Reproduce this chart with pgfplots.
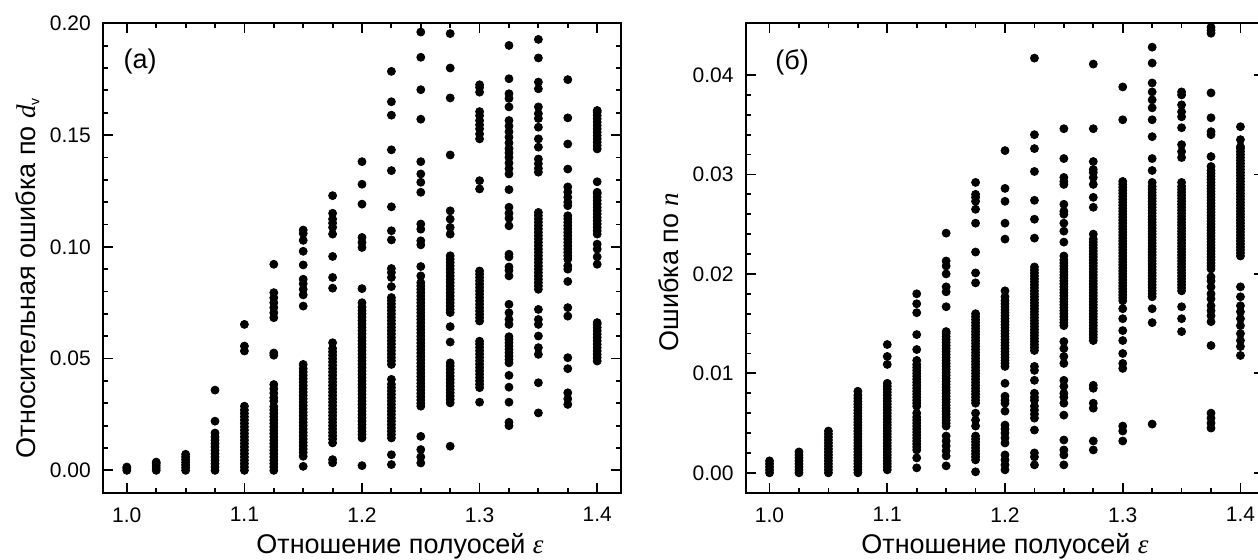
\documentclass[border=0pt]{standalone}
\usepackage{pgfplots}
\pgfplotsset{compat=1.18}
\usepackage{fontspec}
\setmainfont{Liberation Sans}
\newfontfamily\serif{Liberation Serif}
\pgfplotsset{
  panel/.style={
    scale only axis, anchor=south west,
    xmin=0.98, xmax=1.42,
    xtick={1,1.1,1.2,1.3,1.4}, minor x tick num=3,
    scaled x ticks=false, scaled y ticks=false,
    /pgf/number format/assume math mode=true,
    tick align=inside,
    major tick length=5pt, minor tick length=2.3pt,
    every tick/.style={black, line width=0.9pt},
    axis line style={line width=1.15pt},
    xticklabel style={font=\fontsize{10.5}{12.5}\selectfont, yshift=-3.8pt, /pgf/number format/.cd, fixed, fixed zerofill, precision=1},
    yticklabel style={font=\fontsize{10.5}{12.5}\selectfont, xshift=-2.7pt, /pgf/number format/.cd, fixed, fixed zerofill, precision=2},
    label style={font=\fontsize{13.5}{16}\selectfont},
    xlabel style={anchor=center},
    ylabel style={anchor=center, rotate=0},
  },
  dots/.style={only marks, mark=*, mark size=2pt, mark options={draw=none, fill=black}}
}
\begin{document}
\begin{tikzpicture}
\begin{axis}[panel, at={(51.65pt,33.15pt)}, width=258.7pt, height=234.7pt,
  ymin=-0.01, ymax=0.2, ytick={0,0.05,0.1,0.15,0.2}, minor y tick num=4,
  xlabel={Отношение полуосей {\serif\itshape ε}},
  xlabel style={at={(axis description cs:0.5735,-0.1136)}},
  ylabel={Относительная ошибка по {\serif\itshape d}\raisebox{-0.3ex}{\fontsize{7}{8}\selectfont v}},
  ylabel style={at={(axis description cs:-0.147,0.457)}}]
\addplot[dots] table[row sep=\\]{x y\\
1 0\\ 1 .0008\\ 1 .0015\\
1.025 0\\ 1.025 .001\\ 1.025 .002\\ 1.025 .003\\ 1.025 .0037\\
1.05 0\\ 1.05 .0012\\ 1.05 .0024\\ 1.05 .0036\\ 1.05 .0048\\ 1.05 .006\\ 1.05 .0072\\
1.075 .0359\\ 1.075 .022\\ 1.075 0\\ 1.075 .0015\\ 1.075 .003\\ 1.075 .0045\\ 1.075 .006\\ 1.075 .0075\\ 1.075 .009\\ 1.075 .0105\\ 1.075 .012\\ 1.075 .0135\\ 1.075 .015\\ 1.075 .0167\\
1.1 .0653\\ 1.1 .0556\\ 1.1 .0534\\ 1.1 0\\ 1.1 .0015\\ 1.1 .003\\ 1.1 .0045\\ 1.1 .006\\ 1.1 .0075\\ 1.1 .009\\ 1.1 .0105\\ 1.1 .012\\ 1.1 .0135\\ 1.1 .015\\ 1.1 .0165\\ 1.1 .018\\ 1.1 .0195\\ 1.1 .021\\ 1.1 .0225\\ 1.1 .024\\ 1.1 .0255\\ 1.1 .027\\ 1.1 .0287\\
1.125 .0922\\ 1.125 .0795\\ 1.125 .0772\\ 1.125 .075\\ 1.125 .0728\\ 1.125 .0705\\ 1.125 .0683\\ 1.125 .0525\\ 1.125 .0515\\ 1.125 0\\ 1.125 .0015\\ 1.125 .003\\ 1.125 .0045\\ 1.125 .006\\ 1.125 .0075\\ 1.125 .009\\ 1.125 .0105\\ 1.125 .012\\ 1.125 .0135\\ 1.125 .015\\ 1.125 .0165\\ 1.125 .018\\ 1.125 .0195\\ 1.125 .021\\ 1.125 .0225\\ 1.125 .024\\ 1.125 .0255\\ 1.125 .027\\ 1.125 .0285\\ 1.125 .031\\ 1.125 .0325\\ 1.125 .0345\\ 1.125 .0365\\ 1.125 .0384\\
1.15 .1075\\ 1.15 .106\\ 1.15 .1029\\ 1.15 .098\\ 1.15 .0919\\ 1.15 .0855\\ 1.15 .0835\\ 1.15 .081\\ 1.15 .0785\\ 1.15 .0735\\ 1.15 .0018\\ 1.15 .0063\\ 1.15 .008\\ 1.15 .0095\\ 1.15 .011\\ 1.15 .0125\\ 1.15 .014\\ 1.15 .0155\\ 1.15 .017\\ 1.15 .0185\\ 1.15 .02\\ 1.15 .0215\\ 1.15 .023\\ 1.15 .0245\\ 1.15 .026\\ 1.15 .0275\\ 1.15 .029\\ 1.15 .0305\\ 1.15 .032\\ 1.15 .0335\\ 1.15 .035\\ 1.15 .0365\\ 1.15 .038\\ 1.15 .0395\\ 1.15 .041\\ 1.15 .0425\\ 1.15 .044\\ 1.15 .0455\\ 1.15 .0474\\
1.175 .1229\\ 1.175 .115\\ 1.175 .1124\\ 1.175 .1106\\ 1.175 .1087\\ 1.175 .1057\\ 1.175 .0957\\ 1.175 .0863\\ 1.175 .0815\\ 1.175 .0048\\ 1.175 .0034\\ 1.175 .0123\\ 1.175 .014\\ 1.175 .0155\\ 1.175 .017\\ 1.175 .0185\\ 1.175 .02\\ 1.175 .0215\\ 1.175 .023\\ 1.175 .0245\\ 1.175 .026\\ 1.175 .0275\\ 1.175 .029\\ 1.175 .0305\\ 1.175 .032\\ 1.175 .0335\\ 1.175 .035\\ 1.175 .0365\\ 1.175 .038\\ 1.175 .0395\\ 1.175 .041\\ 1.175 .0425\\ 1.175 .044\\ 1.175 .0455\\ 1.175 .047\\ 1.175 .0485\\ 1.175 .05\\ 1.175 .0515\\ 1.175 .053\\ 1.175 .0545\\ 1.175 .0571\\
1.2 .1381\\ 1.2 .128\\ 1.2 .1191\\ 1.2 .1042\\ 1.2 .102\\ 1.2 .0997\\ 1.2 .0813\\ 1.2 .0021\\ 1.2 .0145\\ 1.2 .016\\ 1.2 .0175\\ 1.2 .019\\ 1.2 .0205\\ 1.2 .022\\ 1.2 .0235\\ 1.2 .025\\ 1.2 .0265\\ 1.2 .028\\ 1.2 .0295\\ 1.2 .031\\ 1.2 .0325\\ 1.2 .034\\ 1.2 .0355\\ 1.2 .037\\ 1.2 .0385\\ 1.2 .04\\ 1.2 .0415\\ 1.2 .043\\ 1.2 .0445\\ 1.2 .046\\ 1.2 .0475\\ 1.2 .049\\ 1.2 .0505\\ 1.2 .052\\ 1.2 .0535\\ 1.2 .055\\ 1.2 .0565\\ 1.2 .058\\ 1.2 .0595\\ 1.2 .061\\ 1.2 .0625\\ 1.2 .064\\ 1.2 .0655\\ 1.2 .067\\ 1.2 .0685\\ 1.2 .07\\ 1.2 .0715\\ 1.2 .073\\ 1.2 .075\\
1.225 .1785\\ 1.225 .1649\\ 1.225 .1589\\ 1.225 .1434\\ 1.225 .1341\\ 1.225 .1179\\ 1.225 .1072\\ 1.225 .1031\\ 1.225 .0903\\ 1.225 .0885\\ 1.225 .0863\\ 1.225 .0822\\ 1.225 .0474\\ 1.225 .049\\ 1.225 .0505\\ 1.225 .052\\ 1.225 .0535\\ 1.225 .055\\ 1.225 .0565\\ 1.225 .058\\ 1.225 .0595\\ 1.225 .061\\ 1.225 .0625\\ 1.225 .064\\ 1.225 .0655\\ 1.225 .067\\ 1.225 .0685\\ 1.225 .07\\ 1.225 .0715\\ 1.225 .073\\ 1.225 .0745\\ 1.225 .076\\ 1.225 .0773\\ 1.225 .0145\\ 1.225 .016\\ 1.225 .0175\\ 1.225 .019\\ 1.225 .0205\\ 1.225 .022\\ 1.225 .0235\\ 1.225 .025\\ 1.225 .0265\\ 1.225 .028\\ 1.225 .0295\\ 1.225 .031\\ 1.225 .0325\\ 1.225 .034\\ 1.225 .0355\\ 1.225 .037\\ 1.225 .0385\\ 1.225 .0407\\ 1.225 .007\\ 1.225 .0026\\
1.25 .1961\\ 1.25 .1848\\ 1.25 .1703\\ 1.25 .1571\\ 1.25 .1381\\ 1.25 .1326\\ 1.25 .1289\\ 1.25 .1244\\ 1.25 .1102\\ 1.25 .1079\\ 1.25 .1027\\ 1.25 .1009\\ 1.25 .0912\\ 1.25 .0287\\ 1.25 .03\\ 1.25 .0315\\ 1.25 .033\\ 1.25 .0345\\ 1.25 .036\\ 1.25 .0375\\ 1.25 .039\\ 1.25 .0405\\ 1.25 .042\\ 1.25 .0435\\ 1.25 .045\\ 1.25 .0465\\ 1.25 .048\\ 1.25 .0495\\ 1.25 .051\\ 1.25 .0525\\ 1.25 .054\\ 1.25 .0555\\ 1.25 .057\\ 1.25 .0585\\ 1.25 .06\\ 1.25 .0615\\ 1.25 .063\\ 1.25 .0645\\ 1.25 .066\\ 1.25 .0675\\ 1.25 .069\\ 1.25 .0705\\ 1.25 .072\\ 1.25 .0735\\ 1.25 .075\\ 1.25 .0765\\ 1.25 .078\\ 1.25 .0795\\ 1.25 .081\\ 1.25 .0825\\ 1.25 .084\\ 1.25 .087\\ 1.25 .0152\\ 1.25 .0093\\ 1.25 .006\\ 1.25 .0033\\
1.275 .1954\\ 1.275 .18\\ 1.275 .1666\\ 1.275 .1411\\ 1.275 .1161\\ 1.275 .1124\\ 1.275 .1087\\ 1.275 .1057\\ 1.275 .0706\\ 1.275 .072\\ 1.275 .0735\\ 1.275 .075\\ 1.275 .0765\\ 1.275 .078\\ 1.275 .0795\\ 1.275 .081\\ 1.275 .0825\\ 1.275 .084\\ 1.275 .0855\\ 1.275 .087\\ 1.275 .0885\\ 1.275 .09\\ 1.275 .0915\\ 1.275 .093\\ 1.275 .0945\\ 1.275 .096\\ 1.275 .0643\\ 1.275 .0574\\ 1.275 .0302\\ 1.275 .0317\\ 1.275 .0332\\ 1.275 .0347\\ 1.275 .0362\\ 1.275 .0377\\ 1.275 .0392\\ 1.275 .0407\\ 1.275 .0422\\ 1.275 .0437\\ 1.275 .0452\\ 1.275 .0467\\ 1.275 .0481\\ 1.275 .0108\\
1.3 .1725\\ 1.3 .1713\\ 1.3 .1692\\ 1.3 .1605\\ 1.3 .1587\\ 1.3 .1565\\ 1.3 .1546\\ 1.3 .1528\\ 1.3 .1505\\ 1.3 .1483\\ 1.3 .1296\\ 1.3 .1259\\ 1.3 .0668\\ 1.3 .0683\\ 1.3 .0698\\ 1.3 .0713\\ 1.3 .0728\\ 1.3 .0743\\ 1.3 .0758\\ 1.3 .0773\\ 1.3 .0788\\ 1.3 .0803\\ 1.3 .0818\\ 1.3 .0833\\ 1.3 .0848\\ 1.3 .0863\\ 1.3 .0878\\ 1.3 .0892\\ 1.3 .037\\ 1.3 .0385\\ 1.3 .04\\ 1.3 .0415\\ 1.3 .043\\ 1.3 .0445\\ 1.3 .046\\ 1.3 .0475\\ 1.3 .049\\ 1.3 .0505\\ 1.3 .052\\ 1.3 .0535\\ 1.3 .055\\ 1.3 .0565\\ 1.3 .0578\\ 1.3 .0305\\
1.325 .1901\\ 1.325 .1752\\ 1.325 .1685\\ 1.325 .1664\\ 1.325 .1626\\ 1.325 .1565\\ 1.325 .154\\ 1.325 .1515\\ 1.325 .149\\ 1.325 .1465\\ 1.325 .144\\ 1.325 .142\\ 1.325 .14\\ 1.325 .1375\\ 1.325 .135\\ 1.325 .1326\\ 1.325 .1256\\ 1.325 .1177\\ 1.325 .115\\ 1.325 .1128\\ 1.325 .1094\\ 1.325 .0967\\ 1.325 .0955\\ 1.325 .091\\ 1.325 .0895\\ 1.325 .087\\ 1.325 .0743\\ 1.325 .0705\\ 1.325 .0675\\ 1.325 .0653\\ 1.325 .0481\\ 1.325 .0496\\ 1.325 .0511\\ 1.325 .0526\\ 1.325 .0541\\ 1.325 .0556\\ 1.325 .0571\\ 1.325 .0586\\ 1.325 .0598\\ 1.325 .0425\\ 1.325 .0372\\ 1.325 .0305\\ 1.325 .0215\\ 1.325 .02\\
1.35 .1928\\ 1.35 .1845\\ 1.35 .1737\\ 1.35 .1707\\ 1.35 .1626\\ 1.35 .1596\\ 1.35 .1574\\ 1.35 .1535\\ 1.35 .1483\\ 1.35 .1446\\ 1.35 .1393\\ 1.35 .1372\\ 1.35 .1351\\ 1.35 .1334\\ 1.35 .081\\ 1.35 .0825\\ 1.35 .084\\ 1.35 .0855\\ 1.35 .087\\ 1.35 .0885\\ 1.35 .09\\ 1.35 .0915\\ 1.35 .093\\ 1.35 .0945\\ 1.35 .096\\ 1.35 .0975\\ 1.35 .099\\ 1.35 .1005\\ 1.35 .102\\ 1.35 .1035\\ 1.35 .105\\ 1.35 .1065\\ 1.35 .108\\ 1.35 .1095\\ 1.35 .111\\ 1.35 .1125\\ 1.35 .114\\ 1.35 .1154\\ 1.35 .072\\ 1.35 .0675\\ 1.35 .0653\\ 1.35 .0601\\ 1.35 .0549\\ 1.35 .0519\\ 1.35 .0392\\ 1.35 .0257\\
1.375 .1748\\ 1.375 .1577\\ 1.375 .146\\ 1.375 .1348\\ 1.375 .1268\\ 1.375 .1245\\ 1.375 .1222\\ 1.375 .12\\ 1.375 .1184\\ 1.375 .0945\\ 1.375 .096\\ 1.375 .0975\\ 1.375 .099\\ 1.375 .1005\\ 1.375 .102\\ 1.375 .1035\\ 1.375 .105\\ 1.375 .1065\\ 1.375 .108\\ 1.375 .1095\\ 1.375 .111\\ 1.375 .1125\\ 1.375 .1139\\ 1.375 .0915\\ 1.375 .09\\ 1.375 .0845\\ 1.375 .0728\\ 1.375 .069\\ 1.375 .0504\\ 1.375 .0455\\ 1.375 .0347\\ 1.375 .032\\ 1.375 .0295\\
1.4 .1438\\ 1.4 .1453\\ 1.4 .1468\\ 1.4 .1483\\ 1.4 .1498\\ 1.4 .1513\\ 1.4 .1528\\ 1.4 .1543\\ 1.4 .1558\\ 1.4 .1573\\ 1.4 .1588\\ 1.4 .1603\\ 1.4 .161\\ 1.4 .1291\\ 1.4 .1057\\ 1.4 .1072\\ 1.4 .1087\\ 1.4 .1102\\ 1.4 .1117\\ 1.4 .1132\\ 1.4 .1147\\ 1.4 .1162\\ 1.4 .1177\\ 1.4 .1192\\ 1.4 .1207\\ 1.4 .1222\\ 1.4 .1237\\ 1.4 .1244\\ 1.4 .1012\\ 1.4 .099\\ 1.4 .0955\\ 1.4 .0922\\ 1.4 .0489\\ 1.4 .0504\\ 1.4 .0519\\ 1.4 .0534\\ 1.4 .0549\\ 1.4 .0564\\ 1.4 .0579\\ 1.4 .0594\\ 1.4 .0609\\ 1.4 .0624\\ 1.4 .0639\\ 1.4 .0654\\ 1.4 .0661\\
};
\node[font=\fontsize{13.5}{16}\selectfont] at (axis description cs:0.071,0.919) {(а)};
\end{axis}
\begin{axis}[panel, at={(373pt,33.15pt)}, width=259pt, height=234.7pt,
  ymin=-0.002, ymax=0.0452, ytick={0,0.01,0.02,0.03,0.04}, minor y tick num=4,
  xlabel={Отношение полуосей {\serif\itshape ε}},
  xlabel style={at={(axis description cs:0.5,-0.1136)}},
  ylabel={Ошибка по {\serif\itshape n}},
  ylabel style={at={(axis description cs:-0.150,0.470)}}]
\addplot[dots] table[row sep=\\]{x y\\
1 0\\ 1 .0003\\ 1 .0006\\ 1 .0009\\ 1 .0012\\
1.025 0\\ 1.025 .0003\\ 1.025 .0006\\ 1.025 .0009\\ 1.025 .0012\\ 1.025 .0015\\ 1.025 .0018\\ 1.025 .0021\\
1.05 0\\ 1.05 .0003\\ 1.05 .0006\\ 1.05 .0009\\ 1.05 .0012\\ 1.05 .0015\\ 1.05 .0018\\ 1.05 .0021\\ 1.05 .0024\\ 1.05 .0027\\ 1.05 .003\\ 1.05 .0033\\ 1.05 .0036\\ 1.05 .0039\\ 1.05 .0042\\
1.075 0\\ 1.075 .0003\\ 1.075 .0006\\ 1.075 .0009\\ 1.075 .0012\\ 1.075 .0015\\ 1.075 .0018\\ 1.075 .0021\\ 1.075 .0024\\ 1.075 .0027\\ 1.075 .003\\ 1.075 .0033\\ 1.075 .0036\\ 1.075 .0039\\ 1.075 .0042\\ 1.075 .0045\\ 1.075 .0048\\ 1.075 .0051\\ 1.075 .0054\\ 1.075 .0057\\ 1.075 .006\\ 1.075 .0063\\ 1.075 .0066\\ 1.075 .0069\\ 1.075 .0072\\ 1.075 .0075\\ 1.075 .0078\\ 1.075 .0082\\
1.1 .0129\\ 1.1 .0117\\ 1.1 .0109\\ 1.1 .0003\\ 1.1 .0006\\ 1.1 .0009\\ 1.1 .0012\\ 1.1 .0015\\ 1.1 .0018\\ 1.1 .0021\\ 1.1 .0024\\ 1.1 .0027\\ 1.1 .003\\ 1.1 .0033\\ 1.1 .0036\\ 1.1 .0039\\ 1.1 .0042\\ 1.1 .0045\\ 1.1 .0048\\ 1.1 .0051\\ 1.1 .0054\\ 1.1 .0057\\ 1.1 .006\\ 1.1 .0063\\ 1.1 .0066\\ 1.1 .0069\\ 1.1 .0072\\ 1.1 .0075\\ 1.1 .0078\\ 1.1 .0081\\ 1.1 .0084\\ 1.1 .0087\\ 1.1 .009\\
1.125 .018\\ 1.125 .017\\ 1.125 .0161\\ 1.125 .0139\\ 1.125 .0124\\ 1.125 .0067\\ 1.125 .007\\ 1.125 .0073\\ 1.125 .0076\\ 1.125 .0079\\ 1.125 .0082\\ 1.125 .0085\\ 1.125 .0088\\ 1.125 .0091\\ 1.125 .0094\\ 1.125 .0097\\ 1.125 .01\\ 1.125 .0103\\ 1.125 .0106\\ 1.125 .0109\\ 1.125 .0113\\ 1.125 .0023\\ 1.125 .0026\\ 1.125 .0029\\ 1.125 .0032\\ 1.125 .0035\\ 1.125 .0038\\ 1.125 .0041\\ 1.125 .0044\\ 1.125 .0047\\ 1.125 .005\\ 1.125 .0053\\ 1.125 .0056\\ 1.125 .006\\ 1.125 .0015\\ 1.125 .0005\\
1.15 .0241\\ 1.15 .0213\\ 1.15 .0208\\ 1.15 .02\\ 1.15 .0187\\ 1.15 .0182\\ 1.15 .0167\\ 1.15 .0047\\ 1.15 .005\\ 1.15 .0053\\ 1.15 .0056\\ 1.15 .0059\\ 1.15 .0062\\ 1.15 .0065\\ 1.15 .0068\\ 1.15 .0071\\ 1.15 .0074\\ 1.15 .0077\\ 1.15 .008\\ 1.15 .0083\\ 1.15 .0086\\ 1.15 .0089\\ 1.15 .0092\\ 1.15 .0095\\ 1.15 .0098\\ 1.15 .0101\\ 1.15 .0104\\ 1.15 .0107\\ 1.15 .011\\ 1.15 .0113\\ 1.15 .0116\\ 1.15 .0119\\ 1.15 .0122\\ 1.15 .0125\\ 1.15 .0128\\ 1.15 .0131\\ 1.15 .0134\\ 1.15 .0137\\ 1.15 .014\\ 1.15 .0142\\ 1.15 .0037\\ 1.15 .0032\\ 1.15 .0027\\ 1.15 .0022\\ 1.15 .0017\\ 1.15 .0007\\
1.175 .0292\\ 1.175 .028\\ 1.175 .0277\\ 1.175 .0273\\ 1.175 .0265\\ 1.175 .0251\\ 1.175 .0222\\ 1.175 .0201\\ 1.175 .0191\\ 1.175 .007\\ 1.175 .0073\\ 1.175 .0076\\ 1.175 .0079\\ 1.175 .0082\\ 1.175 .0085\\ 1.175 .0088\\ 1.175 .0091\\ 1.175 .0094\\ 1.175 .0097\\ 1.175 .01\\ 1.175 .0103\\ 1.175 .0106\\ 1.175 .0109\\ 1.175 .0112\\ 1.175 .0115\\ 1.175 .0118\\ 1.175 .0121\\ 1.175 .0124\\ 1.175 .0127\\ 1.175 .013\\ 1.175 .0133\\ 1.175 .0136\\ 1.175 .0139\\ 1.175 .0142\\ 1.175 .0145\\ 1.175 .0148\\ 1.175 .0151\\ 1.175 .0154\\ 1.175 .0157\\ 1.175 .016\\ 1.175 .006\\ 1.175 .0053\\ 1.175 .0047\\ 1.175 .0013\\ 1.175 .0016\\ 1.175 .0019\\ 1.175 .0022\\ 1.175 .0025\\ 1.175 .0028\\ 1.175 .0031\\ 1.175 .0034\\ 1.175 .0037\\ 1.175 .0001\\
1.2 .0324\\ 1.2 .0286\\ 1.2 .0273\\ 1.2 .0251\\ 1.2 .0235\\ 1.2 .0183\\ 1.2 .0107\\ 1.2 .011\\ 1.2 .0113\\ 1.2 .0116\\ 1.2 .0119\\ 1.2 .0122\\ 1.2 .0125\\ 1.2 .0128\\ 1.2 .0131\\ 1.2 .0134\\ 1.2 .0137\\ 1.2 .014\\ 1.2 .0143\\ 1.2 .0146\\ 1.2 .0149\\ 1.2 .0152\\ 1.2 .0155\\ 1.2 .0158\\ 1.2 .0161\\ 1.2 .0164\\ 1.2 .0167\\ 1.2 .017\\ 1.2 .0173\\ 1.2 .0177\\ 1.2 .009\\ 1.2 .0077\\ 1.2 .0073\\ 1.2 .007\\ 1.2 .0062\\ 1.2 .0048\\ 1.2 .0044\\ 1.2 .004\\ 1.2 .0035\\ 1.2 .003\\ 1.2 .0018\\ 1.2 .0013\\ 1.2 .0008\\ 1.2 .0003\\
1.225 .0417\\ 1.225 .034\\ 1.225 .0326\\ 1.225 .0303\\ 1.225 .0274\\ 1.225 .0255\\ 1.225 .0236\\ 1.225 .0123\\ 1.225 .0126\\ 1.225 .0129\\ 1.225 .0132\\ 1.225 .0135\\ 1.225 .0138\\ 1.225 .0141\\ 1.225 .0144\\ 1.225 .0147\\ 1.225 .015\\ 1.225 .0153\\ 1.225 .0156\\ 1.225 .0159\\ 1.225 .0162\\ 1.225 .0165\\ 1.225 .0168\\ 1.225 .0171\\ 1.225 .0174\\ 1.225 .0177\\ 1.225 .018\\ 1.225 .0183\\ 1.225 .0186\\ 1.225 .0189\\ 1.225 .0192\\ 1.225 .0195\\ 1.225 .0198\\ 1.225 .0201\\ 1.225 .0204\\ 1.225 .0207\\ 1.225 .0107\\ 1.225 .0103\\ 1.225 .0093\\ 1.225 .008\\ 1.225 .0076\\ 1.225 .0073\\ 1.225 .0067\\ 1.225 .0063\\ 1.225 .0059\\ 1.225 .0055\\ 1.225 .0043\\ 1.225 .002\\ 1.225 .0016\\ 1.225 .0008\\
1.25 .0346\\ 1.25 .0316\\ 1.25 .0297\\ 1.25 .0293\\ 1.25 .029\\ 1.25 .027\\ 1.25 .0263\\ 1.25 .026\\ 1.25 .0251\\ 1.25 .0243\\ 1.25 .0232\\ 1.25 .0148\\ 1.25 .0151\\ 1.25 .0154\\ 1.25 .0157\\ 1.25 .016\\ 1.25 .0163\\ 1.25 .0166\\ 1.25 .0169\\ 1.25 .0172\\ 1.25 .0175\\ 1.25 .0178\\ 1.25 .0181\\ 1.25 .0184\\ 1.25 .0187\\ 1.25 .019\\ 1.25 .0193\\ 1.25 .0196\\ 1.25 .0199\\ 1.25 .0202\\ 1.25 .0205\\ 1.25 .0208\\ 1.25 .0211\\ 1.25 .0214\\ 1.25 .0218\\ 1.25 .0132\\ 1.25 .0125\\ 1.25 .0117\\ 1.25 .011\\ 1.25 .0093\\ 1.25 .0087\\ 1.25 .008\\ 1.25 .0076\\ 1.25 .007\\ 1.25 .0058\\ 1.25 .0033\\ 1.25 .0023\\ 1.25 .0018\\ 1.25 .0008\\
1.275 .0411\\ 1.275 .0346\\ 1.275 .0313\\ 1.275 .0305\\ 1.275 .0302\\ 1.275 .0297\\ 1.275 .029\\ 1.275 .0277\\ 1.275 .0267\\ 1.275 .0133\\ 1.275 .0136\\ 1.275 .0139\\ 1.275 .0142\\ 1.275 .0145\\ 1.275 .0148\\ 1.275 .0151\\ 1.275 .0154\\ 1.275 .0157\\ 1.275 .016\\ 1.275 .0163\\ 1.275 .0166\\ 1.275 .0169\\ 1.275 .0172\\ 1.275 .0175\\ 1.275 .0178\\ 1.275 .0181\\ 1.275 .0184\\ 1.275 .0187\\ 1.275 .019\\ 1.275 .0193\\ 1.275 .0196\\ 1.275 .0199\\ 1.275 .0202\\ 1.275 .0205\\ 1.275 .0208\\ 1.275 .0211\\ 1.275 .0214\\ 1.275 .0217\\ 1.275 .022\\ 1.275 .0223\\ 1.275 .0226\\ 1.275 .0229\\ 1.275 .0232\\ 1.275 .0235\\ 1.275 .024\\ 1.275 .0088\\ 1.275 .0085\\ 1.275 .007\\ 1.275 .0065\\ 1.275 .0032\\ 1.275 .0023\\
1.3 .0388\\ 1.3 .0355\\ 1.3 .0173\\ 1.3 .0176\\ 1.3 .0179\\ 1.3 .0182\\ 1.3 .0185\\ 1.3 .0188\\ 1.3 .0191\\ 1.3 .0194\\ 1.3 .0197\\ 1.3 .02\\ 1.3 .0203\\ 1.3 .0206\\ 1.3 .0209\\ 1.3 .0212\\ 1.3 .0215\\ 1.3 .0218\\ 1.3 .0221\\ 1.3 .0224\\ 1.3 .0227\\ 1.3 .023\\ 1.3 .0233\\ 1.3 .0236\\ 1.3 .0239\\ 1.3 .0242\\ 1.3 .0245\\ 1.3 .0248\\ 1.3 .0251\\ 1.3 .0254\\ 1.3 .0257\\ 1.3 .026\\ 1.3 .0263\\ 1.3 .0266\\ 1.3 .0269\\ 1.3 .0272\\ 1.3 .0275\\ 1.3 .0278\\ 1.3 .0281\\ 1.3 .0284\\ 1.3 .0287\\ 1.3 .029\\ 1.3 .0293\\ 1.3 .0165\\ 1.3 .0155\\ 1.3 .0143\\ 1.3 .0133\\ 1.3 .012\\ 1.3 .011\\ 1.3 .0105\\ 1.3 .0047\\ 1.3 .0042\\ 1.3 .0032\\
1.325 .0428\\ 1.325 .0412\\ 1.325 .0392\\ 1.325 .0383\\ 1.325 .0375\\ 1.325 .0367\\ 1.325 .0355\\ 1.325 .0338\\ 1.325 .0316\\ 1.325 .0304\\ 1.325 .0177\\ 1.325 .018\\ 1.325 .0183\\ 1.325 .0186\\ 1.325 .0189\\ 1.325 .0192\\ 1.325 .0195\\ 1.325 .0198\\ 1.325 .0201\\ 1.325 .0204\\ 1.325 .0207\\ 1.325 .021\\ 1.325 .0213\\ 1.325 .0216\\ 1.325 .0219\\ 1.325 .0222\\ 1.325 .0225\\ 1.325 .0228\\ 1.325 .0231\\ 1.325 .0234\\ 1.325 .0237\\ 1.325 .024\\ 1.325 .0243\\ 1.325 .0246\\ 1.325 .0249\\ 1.325 .0252\\ 1.325 .0255\\ 1.325 .0258\\ 1.325 .0261\\ 1.325 .0264\\ 1.325 .0267\\ 1.325 .027\\ 1.325 .0273\\ 1.325 .0276\\ 1.325 .0279\\ 1.325 .0282\\ 1.325 .0285\\ 1.325 .0288\\ 1.325 .0292\\ 1.325 .0165\\ 1.325 .0151\\ 1.325 .0049\\
1.35 .0383\\ 1.35 .038\\ 1.35 .037\\ 1.35 .0363\\ 1.35 .0358\\ 1.35 .0347\\ 1.35 .033\\ 1.35 .0323\\ 1.35 .0317\\ 1.35 .0183\\ 1.35 .0186\\ 1.35 .0189\\ 1.35 .0192\\ 1.35 .0195\\ 1.35 .0198\\ 1.35 .0201\\ 1.35 .0204\\ 1.35 .0207\\ 1.35 .021\\ 1.35 .0213\\ 1.35 .0216\\ 1.35 .0219\\ 1.35 .0222\\ 1.35 .0225\\ 1.35 .0228\\ 1.35 .0231\\ 1.35 .0234\\ 1.35 .0237\\ 1.35 .024\\ 1.35 .0243\\ 1.35 .0246\\ 1.35 .0249\\ 1.35 .0252\\ 1.35 .0255\\ 1.35 .0258\\ 1.35 .0261\\ 1.35 .0264\\ 1.35 .0267\\ 1.35 .027\\ 1.35 .0273\\ 1.35 .0276\\ 1.35 .0279\\ 1.35 .0282\\ 1.35 .0285\\ 1.35 .0288\\ 1.35 .0292\\ 1.35 .0167\\ 1.35 .0155\\ 1.35 .0142\\
1.375 .0448\\ 1.375 .0445\\ 1.375 .0442\\ 1.375 .0382\\ 1.375 .0357\\ 1.375 .0343\\ 1.375 .034\\ 1.375 .0318\\ 1.375 .0205\\ 1.375 .0208\\ 1.375 .0211\\ 1.375 .0214\\ 1.375 .0217\\ 1.375 .022\\ 1.375 .0223\\ 1.375 .0226\\ 1.375 .0229\\ 1.375 .0232\\ 1.375 .0235\\ 1.375 .0238\\ 1.375 .0241\\ 1.375 .0244\\ 1.375 .0247\\ 1.375 .025\\ 1.375 .0253\\ 1.375 .0256\\ 1.375 .0259\\ 1.375 .0262\\ 1.375 .0265\\ 1.375 .0268\\ 1.375 .0271\\ 1.375 .0274\\ 1.375 .0277\\ 1.375 .028\\ 1.375 .0283\\ 1.375 .0286\\ 1.375 .0289\\ 1.375 .0292\\ 1.375 .0295\\ 1.375 .0298\\ 1.375 .0301\\ 1.375 .0304\\ 1.375 .0308\\ 1.375 .0197\\ 1.375 .0193\\ 1.375 .0187\\ 1.375 .018\\ 1.375 .0175\\ 1.375 .0168\\ 1.375 .0163\\ 1.375 .0158\\ 1.375 .0152\\ 1.375 .0128\\ 1.375 .006\\ 1.375 .0055\\ 1.375 .005\\ 1.375 .0045\\
1.4 .0348\\ 1.4 .0335\\ 1.4 .0218\\ 1.4 .0221\\ 1.4 .0224\\ 1.4 .0227\\ 1.4 .023\\ 1.4 .0233\\ 1.4 .0236\\ 1.4 .0239\\ 1.4 .0242\\ 1.4 .0245\\ 1.4 .0248\\ 1.4 .0251\\ 1.4 .0254\\ 1.4 .0257\\ 1.4 .026\\ 1.4 .0263\\ 1.4 .0266\\ 1.4 .0269\\ 1.4 .0272\\ 1.4 .0275\\ 1.4 .0278\\ 1.4 .0281\\ 1.4 .0284\\ 1.4 .0287\\ 1.4 .029\\ 1.4 .0293\\ 1.4 .0296\\ 1.4 .0299\\ 1.4 .0302\\ 1.4 .0305\\ 1.4 .0308\\ 1.4 .0311\\ 1.4 .0314\\ 1.4 .0317\\ 1.4 .032\\ 1.4 .0323\\ 1.4 .0326\\ 1.4 .0328\\ 1.4 .0187\\ 1.4 .0177\\ 1.4 .0168\\ 1.4 .0162\\ 1.4 .0155\\ 1.4 .0148\\ 1.4 .014\\ 1.4 .0133\\ 1.4 .0127\\ 1.4 .0118\\
};
\node[font=\fontsize{13.5}{16}\selectfont] at (axis description cs:0.089,0.917) {(б)};
\end{axis}
\pgfresetboundingbox
\path[use as bounding box] (0,0) rectangle (629pt,279.5pt);
\end{tikzpicture}
\end{document}
